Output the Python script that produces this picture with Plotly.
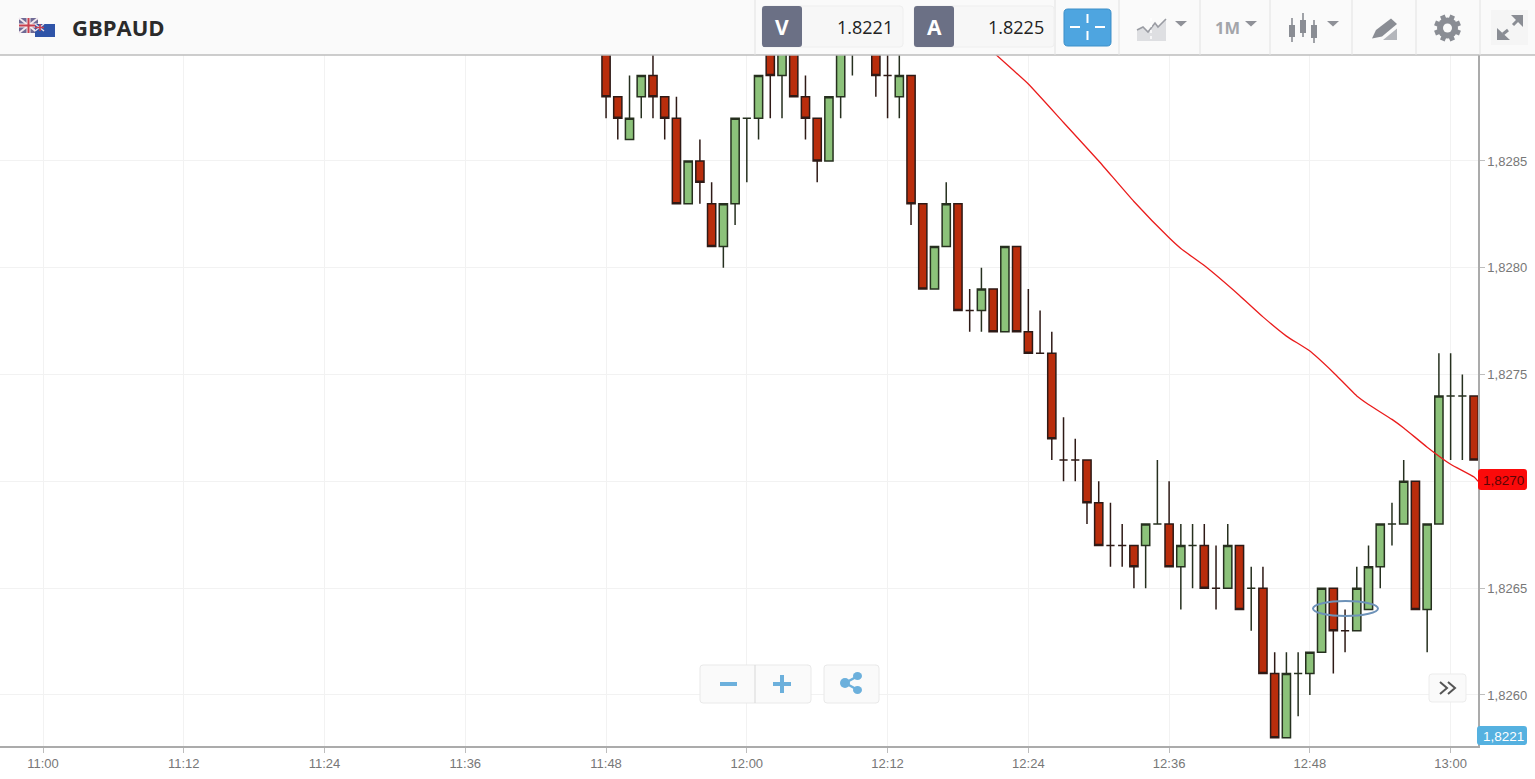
import math
import plotly.graph_objects as go

TITLE = "GBPAUD"
BID = "1.8221"
ASK = "1.8225"
TAG_RED = "1,8270"
TAG_BLUE = "1,8221"
DAY = "2018-01-15 "

minutes = ["11:48","11:49","11:50","11:51","11:52","11:53","11:54","11:55","11:56","11:57","11:58","11:59",
           "12:00","12:01","12:02","12:03","12:04","12:05","12:06","12:07","12:08","12:09","12:10","12:11",
           "12:12","12:13","12:14","12:15","12:16","12:17","12:18","12:19","12:20","12:21","12:22","12:23",
           "12:24","12:25","12:26","12:27","12:28","12:29","12:30","12:31","12:32","12:33","12:34","12:35",
           "12:36","12:37","12:38","12:39","12:40","12:41","12:42","12:43","12:44","12:45","12:46","12:47",
           "12:48","12:49","12:50","12:51","12:52","12:53","12:54","12:55","12:56","12:57","12:58","12:59",
           "13:00","13:01","13:02"]
opens = [1.8291,1.8288,1.8286,1.8288,1.8289,1.8288,1.8287,1.8283,1.8285,1.8283,1.8281,1.8283,
         1.8287,1.8287,1.8291,1.8289,1.8291,1.8288,1.8287,1.8285,1.8288,1.8291,1.8292,1.8291,
         1.8289,1.8288,1.8289,1.8283,1.8279,1.8281,1.8283,1.8278,1.8278,1.8279,1.8277,1.8281,
         1.8277,1.8276,1.8276,1.8271,1.8271,1.8271,1.8269,1.8267,1.8267,1.8267,1.8267,1.8268,
         1.8268,1.8266,1.8267,1.8267,1.8265,1.8265,1.8267,1.8265,1.8265,1.8261,1.8258,1.8261,
         1.8261,1.8262,1.8265,1.8263,1.8263,1.8264,1.8266,1.8268,1.8268,1.8270,1.8264,1.8268,
         1.8274,1.8274,1.8274]
highs = [1.8292,1.8288,1.8289,1.8289,1.8291,1.8288,1.8288,1.8285,1.8286,1.8284,1.8283,1.8287,
         1.8287,1.8289,1.8291,1.8291,1.8291,1.8289,1.8287,1.8288,1.8291,1.8292,1.8293,1.8292,
         1.8291,1.8291,1.8289,1.8283,1.8281,1.8284,1.8283,1.8279,1.8280,1.8279,1.8281,1.8281,
         1.8279,1.8278,1.8277,1.8273,1.8272,1.8271,1.8270,1.8269,1.8268,1.8267,1.8268,1.8271,
         1.8270,1.8268,1.8268,1.8268,1.8267,1.8268,1.8267,1.8266,1.8266,1.8262,1.8262,1.8262,
         1.8262,1.8265,1.8265,1.8264,1.8266,1.8267,1.8268,1.8269,1.8271,1.8270,1.8268,1.8276,
         1.8276,1.8275,1.8274]
lows = [1.8287,1.8286,1.8286,1.8287,1.8287,1.8286,1.8283,1.8283,1.8283,1.8281,1.8280,1.8282,
        1.8284,1.8286,1.8287,1.8287,1.8288,1.8286,1.8284,1.8285,1.8287,1.8289,1.8291,1.8288,
        1.8287,1.8287,1.8282,1.8279,1.8279,1.8281,1.8278,1.8277,1.8277,1.8277,1.8277,1.8277,
        1.8276,1.8276,1.8271,1.8270,1.8270,1.8268,1.8267,1.8266,1.8266,1.8265,1.8265,1.8268,
        1.8266,1.8264,1.8265,1.8265,1.8264,1.8265,1.8264,1.8263,1.8261,1.8258,1.8258,1.8259,
        1.8260,1.8262,1.8261,1.8262,1.8263,1.8264,1.8265,1.8267,1.8268,1.8264,1.8262,1.8268,
        1.8271,1.8271,1.8271]
closes = [1.8288,1.8287,1.8287,1.8289,1.8288,1.8287,1.8283,1.8285,1.8284,1.8281,1.8283,1.8287,
          1.8287,1.8289,1.8289,1.8291,1.8288,1.8287,1.8285,1.8288,1.8291,1.8292,1.8292,1.8289,
          1.8289,1.8289,1.8283,1.8279,1.8281,1.8283,1.8278,1.8278,1.8279,1.8277,1.8281,1.8277,
          1.8276,1.8276,1.8272,1.8271,1.8271,1.8269,1.8267,1.8267,1.8267,1.8266,1.8268,1.8268,
          1.8266,1.8267,1.8267,1.8265,1.8265,1.8267,1.8264,1.8265,1.8261,1.8258,1.8261,1.8261,
          1.8262,1.8265,1.8263,1.8263,1.8265,1.8266,1.8268,1.8268,1.8270,1.8264,1.8268,1.8274,
          1.8274,1.8274,1.8271]

ma_minutes = ["12:18","12:21","12:24","12:27","12:30","12:33","12:36","12:37","12:39","12:42","12:44","12:46",
              "12:48","12:50","12:52","12:53","12:55","12:56","12:58","13:00","13:02","13:02:20"]
ma_values = [1.82918,1.82901,1.82886,1.82868,1.82850,1.82831,1.82814,1.82809,1.82801,1.82787,1.82777,1.82768,
             1.82761,1.82751,1.82740,1.82736,1.82729,1.82725,1.82716,1.82708,1.82702,1.82700]

X_RANGE = [DAY + "10:56:20", DAY + "13:02:20"]
Y_RANGE = [1.825761, 1.828996]
Y_TICKS = [1.8260, 1.8265, 1.8270, 1.8275, 1.8280, 1.8285]
Y_LABELS = ["1,8260", "1,8265", "", "1,8275", "1,8280", "1,8285"]

W, H = 1535, 779
L, R, T, B = 0, 1478, 55, 746
ICON = "#8a8d94"


def px(x):
    return (x - L) / (R - L)


def py(y):
    return (B - y) / (B - T)


shapes = []
annotations = []


def rect(x0, y0, x1, y1, fill, line=None, lw=1):
    shapes.append(dict(type="rect", xref="paper", yref="paper", x0=px(x0), x1=px(x1), y0=py(y0), y1=py(y1),
                       fillcolor=fill, line=dict(color=line or fill, width=lw if line else 0)))


def seg(x0, y0, x1, y1, color, lw=1, dash="solid"):
    shapes.append(dict(type="line", xref="paper", yref="paper", x0=px(x0), x1=px(x1), y0=py(y0), y1=py(y1),
                       line=dict(color=color, width=lw, dash=dash)))


def poly(points, fill, line=None, lw=1, closed=True):
    d = "M" + " L".join(f"{px(a):.5f},{py(b):.5f}" for a, b in points) + (" Z" if closed else "")
    shapes.append(dict(type="path", xref="paper", yref="paper", path=d, fillcolor=fill,
                       line=dict(color=line or fill, width=lw if line else 0)))


def rrect(x0, y0, x1, y1, r, fill, line=None, lw=1):
    P = lambda a, b: f"{px(a):.5f},{py(b):.5f}"
    d = (f"M{P(x0+r,y0)} L{P(x1-r,y0)} Q{P(x1,y0)} {P(x1,y0+r)} L{P(x1,y1-r)} Q{P(x1,y1)} {P(x1-r,y1)} "
         f"L{P(x0+r,y1)} Q{P(x0,y1)} {P(x0,y1-r)} L{P(x0,y0+r)} Q{P(x0,y0)} {P(x0+r,y0)} Z")
    shapes.append(dict(type="path", xref="paper", yref="paper", path=d, fillcolor=fill,
                       line=dict(color=line or fill, width=lw if line else 0)))


def circle(x0, y0, x1, y1, fill, line=None, lw=1):
    shapes.append(dict(type="circle", xref="paper", yref="paper", x0=px(x0), x1=px(x1), y0=py(y0), y1=py(y1),
                       fillcolor=fill, line=dict(color=line or fill, width=lw if line else 0)))


def text(x, y, s, size, color, family="Open Sans", anchor="center", bold=False):
    annotations.append(dict(xref="paper", yref="paper", x=px(x), y=py(y), text=f"<b>{s}</b>" if bold else s,
                            showarrow=False, xanchor=anchor, yanchor="middle",
                            font=dict(size=size, color=color, family=family), borderpad=0))


def caret(cx, cy):
    poly([(cx - 6, cy - 2.5), (cx + 6, cy - 2.5), (cx, cy + 3)], "#8f9198")


# Toolbar
rect(0, 0, W, 54.5, "#fafafa")
seg(0, 55, W, 55, "#bdbdbd", 1.3)
for sx in [755, 1055, 1119, 1200, 1270, 1352, 1416, 1480]:
    seg(sx, 0, sx, 55, "#e2e2e2", 1)

# Flags
rect(19, 18, 38, 33, "#6f6a95")
seg(19, 18, 38, 33, "#f3e9ee", 2)
seg(19, 33, 38, 18, "#f3e9ee", 2)
seg(28.5, 18, 28.5, 33, "#f5eaea", 4)
seg(19, 25.5, 38, 25.5, "#f5eaea", 4)
seg(28.5, 18, 28.5, 33, "#c8404f", 2)
seg(19, 25.5, 38, 25.5, "#c8404f", 2)
rect(35, 24, 55, 37, "#2f54a8")
seg(35, 24, 44, 31, "#e8dfe8", 1.5)
seg(35, 31, 44, 24, "#e8dfe8", 1.5)
seg(40, 24, 40, 31, "#c8404f", 1.5)
seg(35, 27.5, 44, 27.5, "#c8404f", 1.5)
text(71, 27, TITLE, 22, "#2b2b2b", anchor="left", bold=True)

# Bid / ask boxes
rrect(762, 6, 903, 47, 3, "#f7f7f7", "#efefef")
rrect(762, 6, 802, 47, 3, "#6b7085")
text(782, 27, "V", 21, "#ffffff", bold=True)
text(894, 27, BID, 18, "#222222", anchor="right")
rrect(914, 6, 1054, 47, 3, "#f7f7f7", "#efefef")
rrect(914, 6, 954, 47, 3, "#6b7085")
text(934, 27, "A", 21, "#ffffff", bold=True)
text(1045, 27, ASK, 18, "#222222", anchor="right")

# Crosshair button
rrect(1064, 9, 1111, 46, 4, "#4ea5e0", "#3d8fc8")
for a in [(1087.5, 14, 1087.5, 23), (1087.5, 31, 1087.5, 40), (1070, 27, 1080, 27), (1095, 27, 1105, 27)]:
    seg(*a, "#ffffff", 2)

# Chart type icon
poly([(1137, 41), (1137, 30), (1143, 27), (1148, 32), (1155, 23), (1158, 27), (1166, 19), (1166, 41)], "#dedfe2")
poly([(1137, 30), (1143, 27), (1148, 32), (1155, 23), (1158, 27), (1166, 19)], "rgba(0,0,0,0)", "#9a9ca3", 1.6, False)
seg(1151, 18, 1151, 41, "#ffffff", 1.5, "dot")
caret(1181, 23.5)

# Period
text(1227, 27, "1M", 16.5, "#a3a5aa", bold=True)
caret(1251, 23.5)

# Candles icon
for cx, y0, y1, b0, b1 in [(1292, 18, 42, 25, 37), (1303, 13, 37, 20, 33), (1314, 20, 43, 25, 38)]:
    seg(cx, y0, cx, y1, ICON, 1.6)
    rect(cx - 3, b0, cx + 3, b1, ICON)
caret(1333, 23.5)

# Pencil icon
poly([(1372, 38.5), (1376, 30), (1391, 18.5), (1397, 24), (1382, 36.5)], ICON)
poly([(1383, 40), (1397, 28.5), (1397, 40)], "#b4b6bb")

# Settings
gx, gy = 1447.5, 28
for i in range(8):
    ang = i * math.pi / 4 + math.pi / 8
    seg(gx, gy, gx + 13.5 * math.cos(ang), gy + 13.5 * math.sin(ang), ICON, 5)
circle(gx - 10.5, gy - 10.5, gx + 10.5, gy + 10.5, ICON)
circle(gx - 4.5, gy - 4.5, gx + 4.5, gy + 4.5, "#fafafa")

# Expand icon
rect(1491, 10, 1528, 45, "#f5f5f5")
seg(1503, 34, 1508, 30, ICON, 3)
seg(1513, 25, 1518, 20, ICON, 3)
poly([(1511, 15), (1523, 15), (1523, 27)], ICON)
poly([(1497, 28), (1497, 40), (1510, 40)], ICON)

# Zoom and share buttons
rrect(700, 665, 811, 703, 3, "#fafafa", "#e9e9e9")
seg(755, 665, 755, 703, "#d8d8d8", 1)
rect(720, 682, 737, 686, "#6cb0dc")
rect(773, 682, 791, 686, "#6cb0dc")
rect(780, 675, 784, 693, "#6cb0dc")
rrect(824, 665, 879, 703, 3, "#fafafa", "#e9e9e9")
seg(845, 683, 858, 676, "#6cb0dc", 2.5)
seg(845, 683, 858, 690, "#6cb0dc", 2.5)
circle(840, 678, 850, 688, "#6cb0dc")
circle(853, 672, 862, 680, "#6cb0dc")
circle(853, 686, 862, 694, "#6cb0dc")

# Scroll button
rrect(1429, 674, 1466, 702, 3, "#fafafa", "#ececec")
poly([(1440, 682), (1447, 688), (1440, 694)], "rgba(0,0,0,0)", "#555555", 2, False)
poly([(1448, 682), (1455, 688), (1448, 694)], "rgba(0,0,0,0)", "#555555", 2, False)

# Marker ellipse
circle(1313, 601, 1378, 616, "rgba(0,0,0,0)", "#6d92b8", 2)

# Price tags
rrect(1478, 469, 1527, 490, 3, "#fb0a0a")
text(1503, 480, TAG_RED, 13.5, "#5a0505", family="Liberation Sans")
rrect(1477, 726, 1527, 745, 3, "#55b1e0")
text(1503, 736, TAG_BLUE, 13.5, "#ffffff", family="Liberation Sans")

fig = go.Figure()
fig.add_trace(go.Candlestick(
    x=[DAY + m for m in minutes], open=opens, high=highs, low=lows, close=closes,
    increasing=dict(line=dict(color="#26301f", width=1.5), fillcolor="#8cc27a"),
    decreasing=dict(line=dict(color="#2e1a16", width=1.5), fillcolor="#b92d0c"),
    whiskerwidth=0, hoverinfo="skip"))
fig.add_trace(go.Scatter(
    x=[DAY + m for m in ma_minutes], y=ma_values, mode="lines",
    line=dict(color="#ea1c1c", width=1.3, shape="spline", smoothing=0.4), hoverinfo="skip"))

fig.update_layout(
    width=W, height=H, autosize=False,
    margin=dict(l=0, r=W - R, t=T, b=H - B, pad=0),
    paper_bgcolor="#ffffff", plot_bgcolor="#ffffff",
    showlegend=False, separators=",.", boxgap=0.3, boxgroupgap=0,
    font=dict(family="Liberation Sans, Arial, sans-serif", size=13, color="#777777"),
    shapes=shapes, annotations=annotations,
    xaxis=dict(type="date", range=X_RANGE, rangeslider=dict(visible=False), tickformat="%H:%M",
               tick0=DAY + "11:00", dtick=720000, showgrid=True, gridcolor="#f2f2f2", gridwidth=1,
               showline=True, linecolor="#ababab", linewidth=1.5, ticks="outside", ticklen=5,
               tickcolor="#bdbdbd", tickfont=dict(size=13, color="#777777"), zeroline=False),
    yaxis=dict(side="right", range=Y_RANGE, tickmode="array", tickvals=Y_TICKS, ticktext=Y_LABELS,
               showgrid=True, gridcolor="#f2f2f2", gridwidth=1, showline=True, linecolor="#ababab", linewidth=1.5,
               ticks="outside", ticklen=5, tickcolor="#bdbdbd", tickfont=dict(size=13, color="#777777"),
               zeroline=False),
)

fig.write_html("out.html", config=dict(displayModeBar=False),
               post_script="document.body.style.margin='0';document.documentElement.style.overflow='hidden';")
